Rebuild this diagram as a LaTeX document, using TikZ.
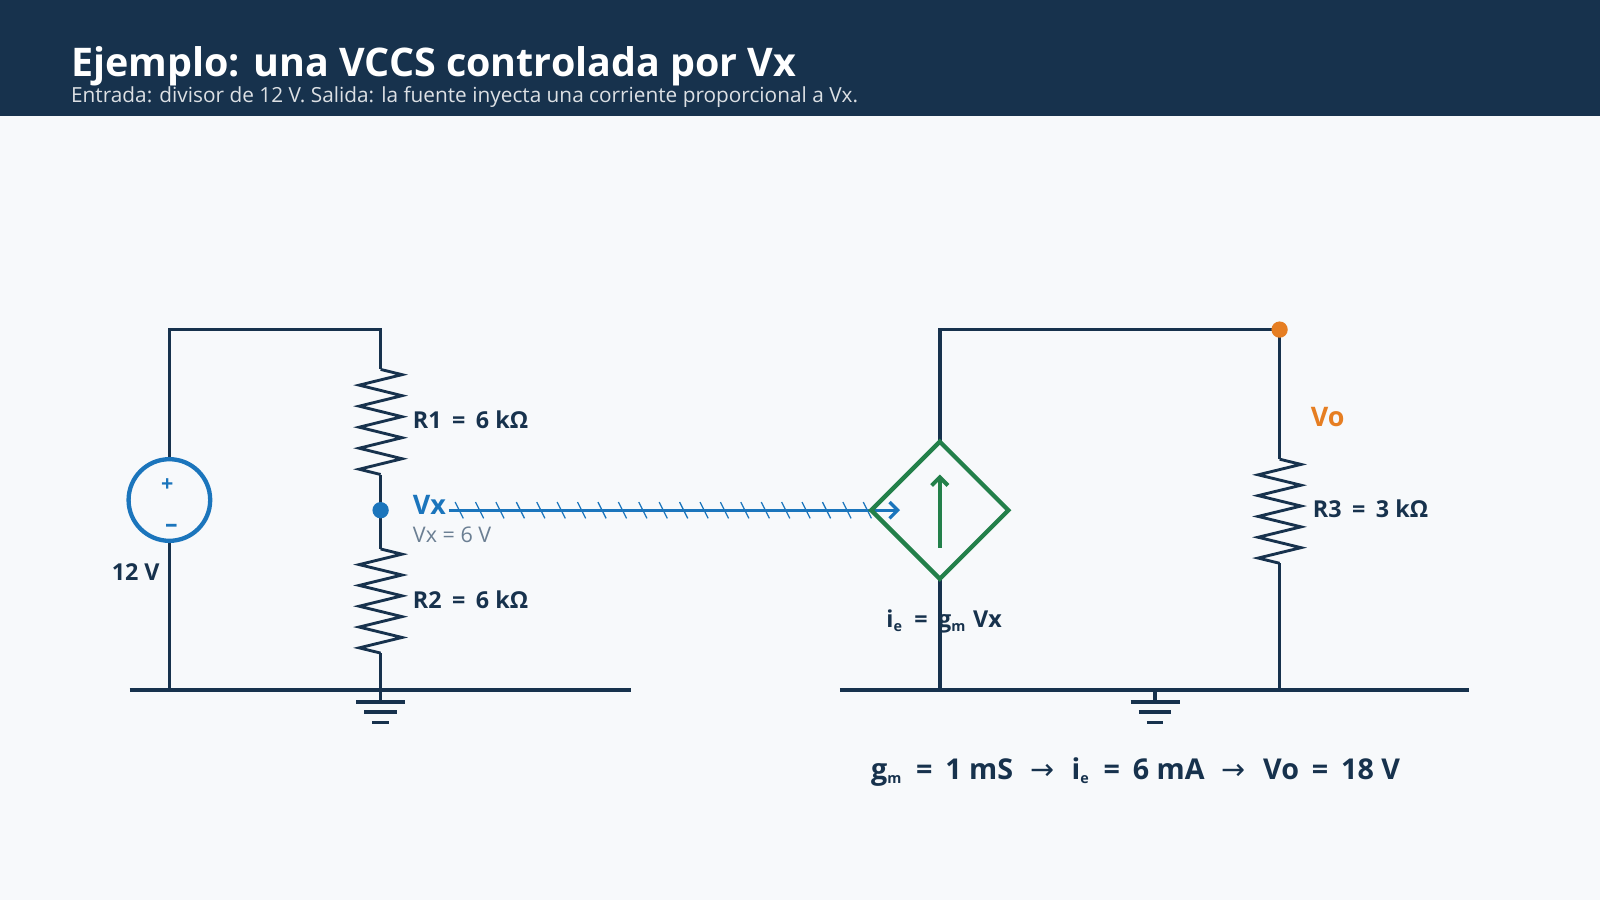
\documentclass[tikz,border=0pt]{standalone}
\usepackage{fontspec}
\setmainfont{Open Sans}
\newfontfamily\symfont{DejaVu Sans}
\usetikzlibrary{arrows.meta,calc}
\definecolor{navy}{HTML}{17324D}
\definecolor{bgc}{HTML}{F7F9FB}
\definecolor{blu}{HTML}{1B75BC}
\definecolor{grn}{HTML}{23804A}
\definecolor{org}{HTML}{E67E22}
\definecolor{gry}{HTML}{6B7F93}
\tikzset{
  wire/.style={draw=navy, line width=1pt},
  lbl/.style={text=navy, font=\bfseries\fontsize{6.5}{7}\selectfont, anchor=west, inner sep=0pt},
  dot/.style={circle, inner sep=0pt, minimum size=1.6mm}
}
\newcommand{\gnd}[1]{%
  \draw[wire] (#1) -- ++(0,12);
  \draw[wire] ($(#1)+(-24,12)$) -- ++(48,0);
  \draw[wire] ($(#1)+(-16,22)$) -- ++(32,0);
  \draw[wire] ($(#1)+(-8,32)$) -- ++(16,0);}
\newcommand{\zig}[3]{% x, top, bottom
  \draw[wire, line width=0.8pt] (#1,#2) \foreach \k in {1,...,5}{ -- (#1+21, {#2+(#3-#2)*(\k-0.75)/5}) -- (#1-21, {#2+(#3-#2)*(\k-0.25)/5})} -- (#1,#3);}
\newcommand{\sub}[1]{\textsubscript{\fontsize{4}{4}\selectfont #1}}
\newcommand{\eq}{\hspace{0.45em}=\hspace{0.45em}}
\newcommand{\ar}{\hspace{0.6em}{\symfont\mdseries →}\hspace{0.6em}}
\begin{document}
\begin{tikzpicture}[x=0.1mm, y=-0.1mm]
  \useasboundingbox (0,0) rectangle (1568,882);
  \fill[bgc] (0,0) rectangle (1568,882);
  \fill[navy] (0,0) rectangle (1568,114);
  \node (title) [anchor=base west, inner sep=0pt, text=white, font=\bfseries\fontsize{11}{12}\selectfont] at (69,75) {Ejemplo: una VCCS controlada por Vx};
  \node (sub) [anchor=base west, inner sep=0pt, text=white!85!navy, font=\fontsize{5.8}{6}\selectfont] at (69,100) {Entrada: divisor de 12 V. Salida: la fuente inyecta una corriente proporcional a Vx.};
  % left side
  \draw[wire] (127,676) -- (618,676);
  \draw[wire] (166,676) -- (166,530);
  \draw[wire] (166,450) -- (166,323) -- (373,323) -- (373,362);
  \zig{373}{362}{465}
  \draw[wire] (373,465) -- (373,538);
  \zig{373}{538}{640}
  \draw[wire] (373,640) -- (373,676);
  \gnd{373,676}
  \node (vs) [circle, draw=blu, line width=1.2pt, minimum size=8mm, inner sep=0pt] at (166,490) {};
  \node (plus) [text=blu, font=\bfseries\fontsize{6}{6}\selectfont] at (164,475) {+};
  \node (minus) [text=blu, font=\bfseries\fontsize{7}{7}\selectfont] at (168,518) {–};
  \node (vsl) [lbl, anchor=center] at (133,561) {12 V};
  \node (vx) [dot, fill=blu] at (373,500) {};
  \node (r1l) [lbl] at (404,411) {R1\eq 6 kΩ};
  \node (r2l) [lbl] at (404,588) {R2\eq 6 kΩ};
  \node (vxl) [lbl, text=blu, font=\bfseries\fontsize{7.5}{8}\selectfont] at (404,495) {Vx};
  \node (vxv) [lbl, text=gry, font=\fontsize{6}{6}\selectfont] at (404,524) {Vx = 6 V};
  % control link
  \coordinate (cs) at (440,500);
  \coordinate (ce) at (882,500);
  \foreach \x in {450,470,...,860} \draw[blu, line width=0.35pt] (\x-4,492) -- (\x+4,508);
  \draw[blu, line width=0.9pt, -{Straight Barb[length=0.8mm,width=1.6mm]}] (cs) -- (ce);
  % right side
  \draw[wire] (823,676) -- (1440,676);
  \draw[wire] (921,676) -- (921,567);
  \draw[wire] (921,433) -- (921,323) -- (1254,323) -- (1254,450);
  \zig{1254}{450}{552}
  \draw[wire] (1254,552) -- (1254,676);
  \gnd{1132,676}
  \node (src) [draw=grn, line width=1.2pt, minimum size=9.5mm, rotate=45, inner sep=0pt] at (921,500) {};
  \draw[grn, line width=1.1pt, -{Straight Barb[length=0.8mm,width=1.6mm]}] (921,537) -- (921,465);
  \node (vo) [dot, fill=org] at (1254,323) {};
  \node (vol) [lbl, text=org, font=\bfseries\fontsize{7.5}{8}\selectfont] at (1284,409) {Vo};
  \node (r3l) [lbl] at (1286,499) {R3\eq 3 kΩ};
  \node (iel) [lbl] at (868,609) {i\sub{e}\eq g\sub{m} Vx};
  \node (eq) [lbl, font=\bfseries\fontsize{8}{9}\selectfont] at (853,757) {g\sub{m}\eq 1 mS\ar i\sub{e}\eq 6 mA\ar Vo\eq 18 V};
\end{tikzpicture}
\end{document}
